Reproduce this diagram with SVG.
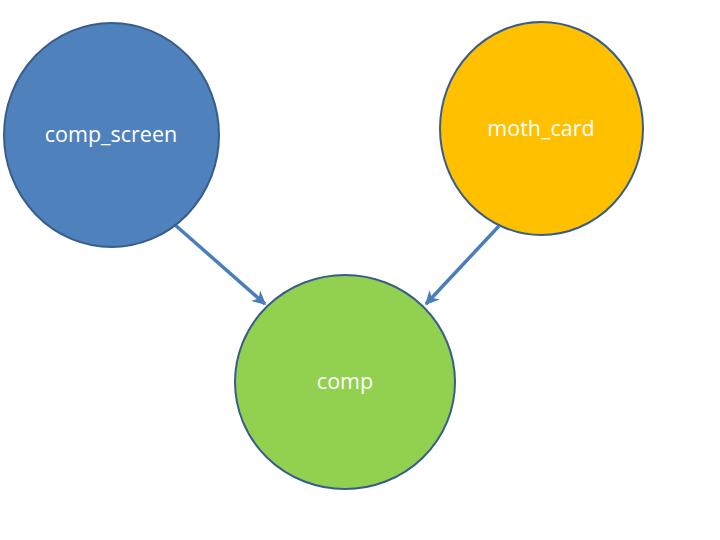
<svg xmlns="http://www.w3.org/2000/svg" width="720" height="540" viewBox="0 0 720 540">
<style>
.node{stroke:#385D8A;stroke-width:2}
.lbl{font-family:"Open Sans","Liberation Sans",sans-serif;font-size:21.5px;fill:#FFFFFF;text-anchor:middle}
.conn{stroke:#4A7EBB;stroke-width:3.5;fill:none}
</style>
<defs>
<marker id="ah" viewBox="0 0 10 10" refX="9" refY="5" markerWidth="4" markerHeight="4" orient="auto" markerUnits="strokeWidth">
<path d="M0,0 L10,5 L0,10 L3,5 Z" fill="#4A7EBB"/>
</marker>
</defs>
<rect width="720" height="540" fill="#FFFFFF"/>
<g id="connectors">
<line class="conn" x1="174" y1="224" x2="265" y2="304" marker-end="url(#ah)"/>
<line class="conn" x1="499" y1="226" x2="426" y2="304" marker-end="url(#ah)"/>
</g>
<g id="comp_screen">
<ellipse class="node" cx="111.5" cy="135" rx="107.5" ry="112" fill="#4F81BD"/>
<text class="lbl" x="111" y="142">comp_screen</text>
</g>
<g id="moth_card">
<ellipse class="node" cx="541.5" cy="128.5" rx="101.5" ry="106.5" fill="#FFC000"/>
<text class="lbl" x="541" y="136">moth_card</text>
</g>
<g id="comp">
<ellipse class="node" cx="345" cy="382" rx="110" ry="107" fill="#92D050"/>
<text class="lbl" x="345" y="389">comp</text>
</g>
</svg>
